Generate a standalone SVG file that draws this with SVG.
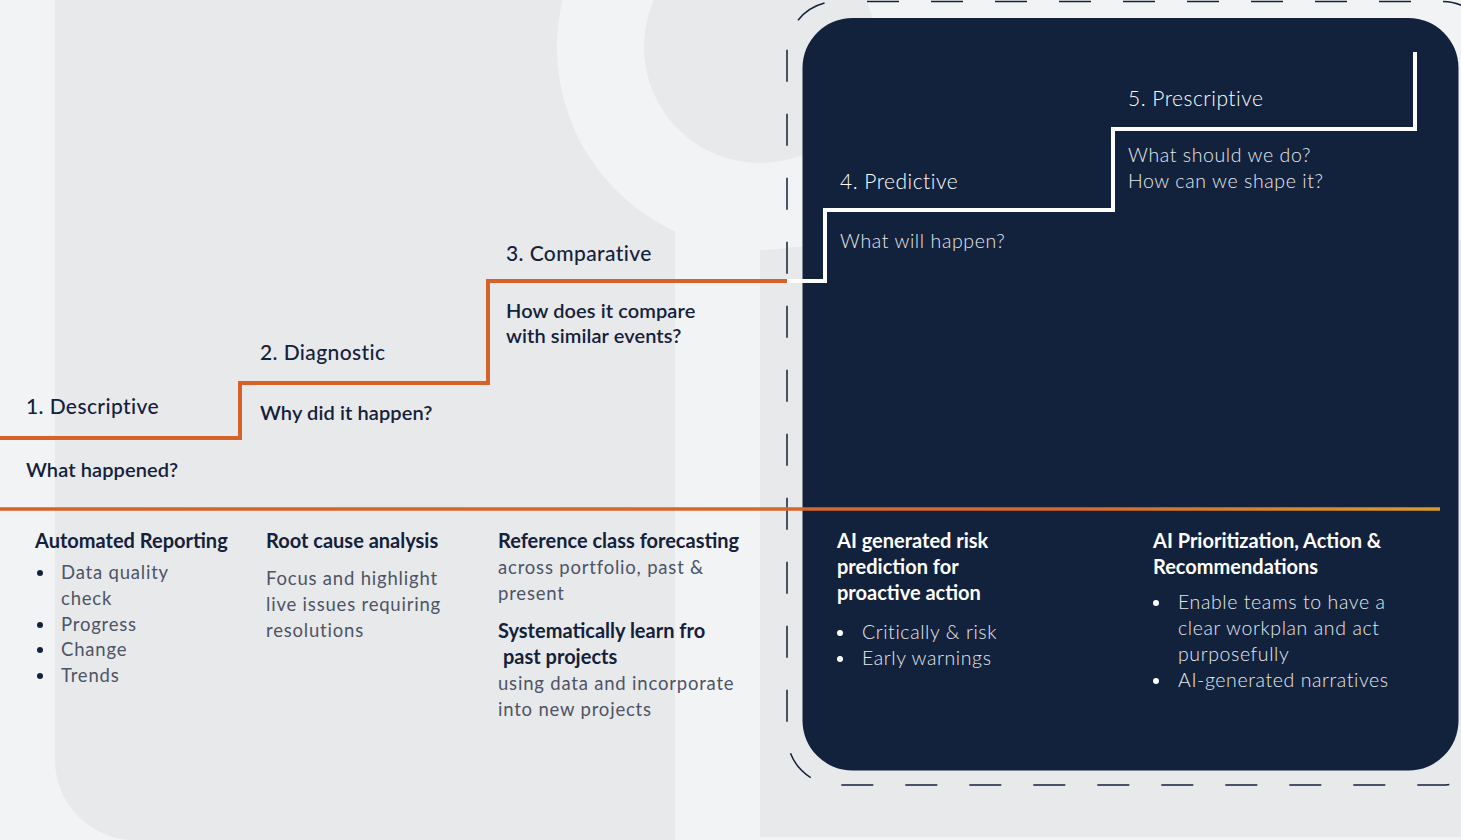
<svg xmlns="http://www.w3.org/2000/svg" width="1461" height="840" viewBox="0 0 1461 840">
<defs>
<style>
.t{font-family:Lato,"Noto Sans",sans-serif}
.h{font-size:21px;font-weight:500;fill:#14213a;letter-spacing:0.4px}
.q{font-size:20px;font-weight:600;fill:#14213a;letter-spacing:0.1px}
.hw{font-size:21px;font-weight:300;fill:#ffffff;letter-spacing:0.5px}
.qw{font-size:19.5px;font-weight:300;fill:#e6e8ec;letter-spacing:0.6px}
.b{font-size:20px;font-weight:700;fill:#14213a}
.bw{font-size:20px;font-weight:700;fill:#ffffff}
.g{font-size:18.5px;font-weight:400;fill:#4d5465;letter-spacing:0.8px}
.gw{font-size:19.5px;font-weight:300;fill:#e6e8ec;letter-spacing:0.6px}
.dot{fill:#14213a}
.dotw{fill:#ffffff}
.step{fill:none;stroke-width:4;stroke-linejoin:miter}
</style>
<linearGradient id="og" x1="0" y1="0" x2="1440" y2="0" gradientUnits="userSpaceOnUse">
<stop offset="0" stop-color="#d6622a"/>
<stop offset="0.75" stop-color="#d8682a"/>
<stop offset="1" stop-color="#d99a2a"/>
</linearGradient>
</defs>
<g id="background">
<rect x="0" y="0" width="1461" height="840" fill="#f2f3f5"/>
<path d="M55,-10 H680 V840 H135 A80,80 0 0 1 55,760 Z" fill="#e8e9eb"/>
<path d="M760,248 Q1100,238 1461,240 V837 H760 Z" fill="#e8e9eb"/>
<circle cx="760" cy="47" r="203" fill="#f2f3f5"/>
<rect x="675" y="47" width="85" height="793" fill="#f2f3f5"/>
<circle cx="760" cy="47" r="116" fill="#e8e9eb"/>
</g>
<g id="frame">
<rect x="787" y="1.5" width="705" height="783.5" rx="50" fill="none" stroke="#14213a" stroke-width="1.5" stroke-dasharray="32 32" stroke-dashoffset="34"/>
<rect x="802.5" y="18" width="656" height="752.5" rx="50" fill="#12223c"/>
</g>
<g id="connectors">
<line x1="0" y1="509" x2="1440" y2="509" stroke="url(#og)" stroke-width="3.5"/>
<polyline class="step" stroke="#d6622a" points="0,438 240,438 240,383 488,383 488,281 787,281"/>
<polyline class="step" stroke="#ffffff" points="787,281 825,281 825,210 1113,210 1113,129 1415,129 1415,52"/>
</g>
<g id="step1" class="t">
<text class="h" x="26" y="414">1. Descriptive</text>
<text class="q" x="26" y="477">What happened?</text>
</g>
<g id="step2" class="t">
<text class="h" x="260" y="360">2. Diagnostic</text>
<text class="q" x="260" y="420">Why did it happen?</text>
</g>
<g id="step3" class="t">
<text class="h" x="506" y="261">3. Comparative</text>
<text class="q" x="506" y="318">How does it compare</text>
<text class="q" x="506" y="343">with similar events?</text>
</g>
<g id="step4" class="t">
<text class="hw" x="840" y="189">4. Predictive</text>
<text class="qw" x="840" y="248">What will happen?</text>
</g>
<g id="step5" class="t">
<text class="hw" x="1128" y="106">5. Prescriptive</text>
<text class="qw" x="1128" y="162">What should we do?</text>
<text class="qw" x="1128" y="188">How can we shape it?</text>
</g>
<g id="col1" class="t">
<text class="b" x="35" y="548">Automated Reporting</text>
<circle class="dot" cx="40" cy="573" r="3"/>
<text class="g" x="61" y="579">Data quality</text>
<text class="g" x="61" y="605">check</text>
<circle class="dot" cx="40" cy="625" r="3"/>
<text class="g" x="61" y="631">Progress</text>
<circle class="dot" cx="40" cy="650" r="3"/>
<text class="g" x="61" y="656">Change</text>
<circle class="dot" cx="40" cy="676" r="3"/>
<text class="g" x="61" y="682">Trends</text>
</g>
<g id="col2" class="t">
<text class="b" x="266" y="548">Root cause analysis</text>
<text class="g" x="266" y="585">Focus and highlight</text>
<text class="g" x="266" y="611">live issues requiring</text>
<text class="g" x="266" y="637">resolutions</text>
</g>
<g id="col3" class="t">
<text class="b" x="498" y="548">Reference class forecasting</text>
<text class="g" x="498" y="574">across portfolio, past &amp;</text>
<text class="g" x="498" y="600">present</text>
<text class="b" x="498" y="638">Systematically learn fro</text>
<text class="b" x="503" y="664">past projects</text>
<text class="g" x="498" y="690">using data and incorporate</text>
<text class="g" x="498" y="716">into new projects</text>
</g>
<g id="col4" class="t">
<text class="bw" x="837" y="548">AI generated risk</text>
<text class="bw" x="837" y="574">prediction for</text>
<text class="bw" x="837" y="600">proactive action</text>
<circle class="dotw" cx="840" cy="633" r="3"/>
<text class="gw" x="862" y="639">Critically &amp; risk</text>
<circle class="dotw" cx="840" cy="659" r="3"/>
<text class="gw" x="862" y="665">Early warnings</text>
</g>
<g id="col5" class="t">
<text class="bw" x="1153" y="548">AI Prioritization, Action &amp;</text>
<text class="bw" x="1153" y="574">Recommendations</text>
<circle class="dotw" cx="1156" cy="603" r="3"/>
<text class="gw" x="1178" y="609">Enable teams to have a</text>
<text class="gw" x="1178" y="635">clear workplan and act</text>
<text class="gw" x="1178" y="661">purposefully</text>
<circle class="dotw" cx="1156" cy="681" r="3"/>
<text class="gw" x="1178" y="687">AI-generated narratives</text>
</g>
</svg>
